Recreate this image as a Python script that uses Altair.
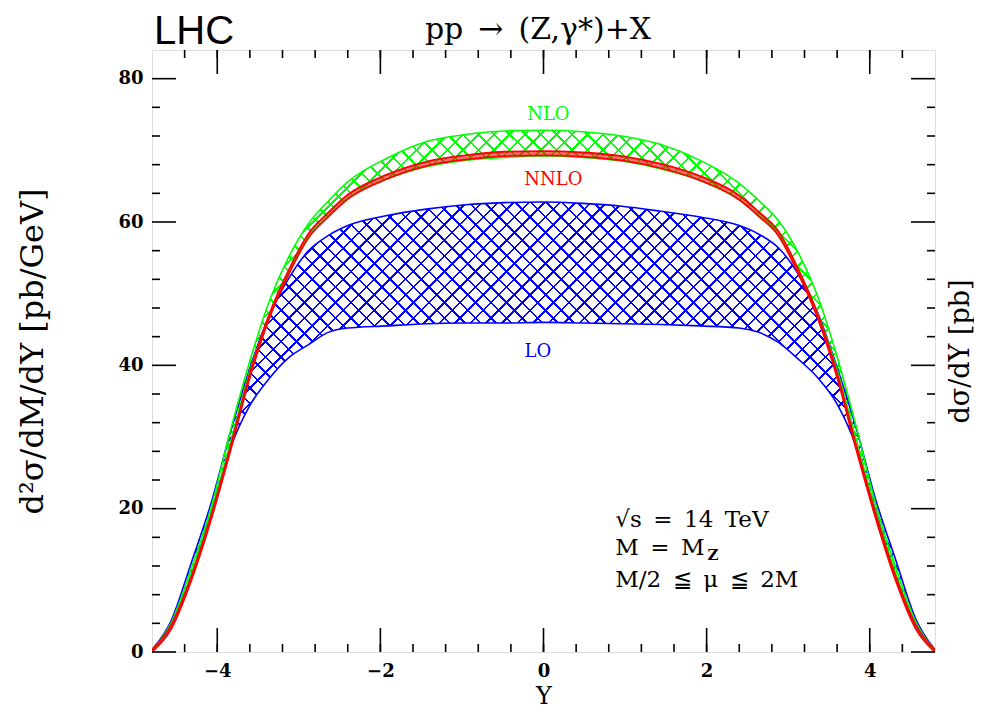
import math
import altair as alt
import pandas as pd

# rapidity grid and the three scale-variation bands
rap = [-4.8, -4.56, -4.32, -4.08, -3.84, -3.6, -3.36, -3.12, -2.88, -2.64, -2.4,
       -1.92, -1.44, -0.96, -0.48, 0.0, 0.48, 0.96, 1.44, 1.92,
       2.4, 2.64, 2.88, 3.12, 3.36, 3.6, 3.84, 4.08, 4.32, 4.56, 4.8]
lo_max = [0.3, 4.5, 12.4, 20.6, 30.6, 39.6, 47.0, 52.2, 56.0, 58.1, 59.5,
          60.9, 61.8, 62.4, 62.7, 62.8, 62.6, 62.2, 61.5, 60.7,
          59.5, 58.3, 56.4, 52.8, 47.4, 39.7, 31.0, 21.0, 12.8, 4.7, 0.3]
lo_min = [0.0, 3.8, 10.5, 19.2, 28.4, 34.4, 38.2, 41.1, 42.9, 44.6, 45.2,
          45.5, 45.8, 45.9, 45.9, 46.0, 45.9, 45.8, 45.7, 45.5,
          45.2, 44.6, 43.2, 40.9, 38.3, 34.6, 28.5, 19.4, 10.6, 3.8, 0.0]
nlo_max = [0.2, 4.2, 11.6, 20.0, 30.8, 40.6, 49.0, 55.2, 59.8, 62.9, 65.6,
           68.9, 71.2, 72.2, 72.7, 72.8, 72.6, 72.0, 70.8, 68.6,
           65.4, 63.0, 60.2, 55.8, 49.7, 41.2, 31.2, 20.3, 11.8, 4.3, 0.2]
nlo_min = [0.1, 3.9, 10.8, 19.2, 29.2, 39.2, 47.0, 53.2, 58.0, 60.8, 63.3,
           66.0, 67.7, 68.6, 69.0, 69.2, 69.0, 68.5, 67.4, 65.8,
           63.1, 60.9, 58.3, 53.5, 47.3, 39.4, 29.4, 19.3, 10.9, 3.9, 0.1]
nnlo_max = [0.3, 3.9, 10.5, 18.9, 28.6, 38.9, 47.2, 53.4, 58.4, 61.3, 63.8,
            66.6, 68.4, 69.3, 69.8, 69.9, 69.7, 69.2, 68.1, 66.4,
            63.7, 61.4, 58.7, 53.5, 47.2, 38.9, 28.6, 19.0, 10.5, 3.9, 0.3]
nnlo_min = [0.0, 3.3, 9.9, 18.3, 28.0, 38.3, 46.6, 52.8, 57.8, 60.7, 63.2,
            66.0, 67.8, 68.7, 69.2, 69.3, 69.1, 68.6, 67.5, 65.8,
            63.1, 60.8, 58.1, 52.9, 46.6, 38.3, 28.0, 18.4, 9.9, 3.3, 0.0]

x_major = [-4, -2, 0, 2, 4]
x_minor = [-4.4, -4.0, -3.6, -3.2, -2.8, -2.4, -2.0, -1.6, -1.2, -0.8, -0.4, 0.0,
           0.4, 0.8, 1.2, 1.6, 2.0, 2.4, 2.8, 3.2, 3.6, 4.0, 4.4]
y_major = [0, 20, 40, 60, 80]
y_minor = [4, 8, 12, 16, 24, 28, 32, 36, 44, 48, 52, 56, 64, 68, 72, 76]

band_labels = ["NLO", "NNLO", "LO"]
band_label_x = [0.06, 0.12, -0.07]
band_label_y = [74.9, 65.8, 41.8]
band_colors = ["#00ff00", "#ff0000", "#0000ff"]

EN = "\u2002"
note_text = ["√s" + EN + "=" + EN + "14" + EN + "TeV", "M" + EN + "=" + EN + "M",
             "M/2" + EN + "≦" + EN + "μ" + EN + "≦" + EN + "2M"]
note_x = [0.88, 0.88, 0.88]
note_y = [18.4, 14.5, 10.0]

W, H = 783, 602
X_DOM = [-4.8, 4.8]
Y_DOM = [0, 84]
SERIF = "DejaVu Serif"
MAJ, MIN = 24, 8

df = pd.DataFrame({"Y": rap, "lo_min": lo_min, "lo_max": lo_max,
                   "nlo_min": nlo_min, "nlo_max": nlo_max,
                   "nnlo_min": nnlo_min, "nnlo_max": nnlo_max})


def hatch(rgb, top, flip, gap=11.0, lw=1.8):
    # diagonal stripes built from a linear gradient over the area's bounding box
    h = top / Y_DOM[1] * H
    w = W
    span = (w + h) / math.sqrt(2)
    k = (w + h) / (w * w + h * h)
    on = "rgb(%d,%d,%d)" % rgb
    off = "rgba(%d,%d,%d,0)" % rgb
    stops = []
    t = 2.0 / span
    while t + lw / span < 1:
        a, b = round(t, 5), round(t + lw / span, 5)
        stops += [alt.GradientStop(offset=a, color=off), alt.GradientStop(offset=a, color=on),
                  alt.GradientStop(offset=b, color=on), alt.GradientStop(offset=b, color=off)]
        t += gap / span
    if flip:
        return alt.LinearGradient(gradient="linear", stops=stops, x1=0, y1=1, x2=k * w, y2=1 - k * h)
    return alt.LinearGradient(gradient="linear", stops=stops, x1=0, y1=0, x2=k * w, y2=k * h)


xs = alt.Scale(domain=X_DOM, nice=False, zero=False)
ys = alt.Scale(domain=Y_DOM, nice=False)

lab = dict(labelFont=SERIF, labelFontSize=18, labelFontWeight="bold", labelColor="black")
ttl = dict(titleFont=SERIF, titleFontWeight="normal", titleColor="black")
x_axis = alt.Axis(orient="bottom", values=x_major, ticks=False, domain=False, grid=False, labelPadding=10,
                  title="Y", titleFontSize=24, titlePadding=4, **lab, **ttl)
y_axis = alt.Axis(orient="left", values=y_major, ticks=False, domain=False, grid=False, labelPadding=9,
                  title="d²σ/dM/dY [pb/GeV]", titleFontSize=32, titlePadding=68, **lab, **ttl)
r_axis = alt.Axis(orient="right", ticks=False, domain=False, grid=False, labels=False,
                  title="dσ/dY [pb]", titleFontSize=27, titleAngle=270, titleBaseline="top",
                  titlePadding=12, **ttl)

base = alt.Chart(df)
layers = []
blue, green = (0, 0, 255), (0, 255, 0)
hatched = [(blue, "lo_min", "lo_max", max(lo_max), False), (blue, "lo_min", "lo_max", max(lo_max), True),
           (green, "nlo_min", "nlo_max", max(nlo_max), False), (green, "nlo_min", "nlo_max", max(nlo_max), True)]
for i, (rgb, lo, hi, top, flip) in enumerate(hatched):
    ya = y_axis if i == 0 else (r_axis if i == 1 else None)
    xa = x_axis if i == 0 else None
    layers.append(base.mark_area(fill=hatch(rgb, top, flip), opacity=1, interpolate="monotone", clip=True).encode(
        x=alt.X("Y:Q", scale=xs, axis=xa), y=alt.Y(lo + ":Q", scale=ys, axis=ya), y2=alt.Y2(hi + ":Q")))

layers.append(base.mark_area(fill="#ff0000", opacity=0.55, interpolate="monotone", clip=True).encode(
    x=alt.X("Y:Q", scale=xs, axis=None), y=alt.Y("nnlo_min:Q", scale=ys, axis=None), y2=alt.Y2("nnlo_max:Q")))

for field, color, sw in [("lo_min", "#0000ff", 1.6), ("lo_max", "#0000ff", 1.6),
                         ("nlo_min", "#00ff00", 1.6), ("nlo_max", "#00ff00", 1.6),
                         ("nnlo_min", "#ff0000", 1.8), ("nnlo_max", "#ff0000", 1.8)]:
    layers.append(base.mark_line(color=color, strokeWidth=sw, interpolate="monotone", clip=True).encode(
        x=alt.X("Y:Q", scale=xs, axis=None), y=alt.Y(field + ":Q", scale=ys, axis=None)))

# inward ticks on all four sides
for vals, size in [(x_major, MAJ), (x_minor, MIN)]:
    tdf = pd.DataFrame({"v": vals})
    for y0, y1 in [(H, H - size), (0, size)]:
        layers.append(alt.Chart(tdf).mark_rule(color="black", strokeWidth=1.6).encode(
            x=alt.X("v:Q", scale=xs, axis=None), y=alt.value(y0), y2=alt.value(y1)))
for vals, size in [(y_major, MAJ), (y_minor, MIN)]:
    tdf = pd.DataFrame({"v": vals})
    for x0, x1 in [(0, size), (W, W - size)]:
        layers.append(alt.Chart(tdf).mark_rule(color="black", strokeWidth=1.6).encode(
            y=alt.Y("v:Q", scale=ys, axis=None), x=alt.value(x0), x2=alt.value(x1)))

labels_df = pd.DataFrame({"x": band_label_x, "y": band_label_y, "t": band_labels, "c": band_colors})
layers.append(alt.Chart(labels_df).mark_text(font=SERIF, fontSize=18, baseline="middle", align="center").encode(
    x=alt.X("x:Q", scale=xs, axis=None), y=alt.Y("y:Q", scale=ys, axis=None),
    text="t:N", color=alt.Color("c:N", scale=None)))

notes_df = pd.DataFrame({"x": note_x, "y": note_y, "t": note_text})
layers.append(alt.Chart(notes_df).mark_text(font=SERIF, fontSize=23, baseline="middle", align="left",
                                            color="black").encode(
    x=alt.X("x:Q", scale=xs, axis=None), y=alt.Y("y:Q", scale=ys, axis=None), text="t:N"))

sub_df = pd.DataFrame({"x": [2.01], "y": [13.6], "t": ["Z"]})
layers.append(alt.Chart(sub_df).mark_text(font=SERIF, fontSize=15, fontWeight="bold", baseline="middle",
                                          align="left", color="black").encode(
    x=alt.X("x:Q", scale=xs, axis=None), y=alt.Y("y:Q", scale=ys, axis=None), text="t:N"))

lhc_df = pd.DataFrame({"t": ["LHC"]})
layers.append(alt.Chart(lhc_df).mark_text(
    font="Liberation Sans", fontSize=40, baseline="alphabetic", align="left", color="black").encode(
    x=alt.value(2), y=alt.value(-6), text="t:N"))
head_df = pd.DataFrame({"t": ["pp" + EN + "→" + EN + "(Z,γ*)+X"]})
layers.append(alt.Chart(head_df).mark_text(
    font=SERIF, fontSize=30, baseline="alphabetic", align="center", color="black").encode(
    x=alt.value(386), y=alt.value(-11), text="t:N"))

chart = alt.layer(*layers).resolve_axis(x="independent", y="independent").properties(
    width=W, height=H,
    autosize=alt.AutoSizeParams(type="none"),
    padding={"left": 144, "top": 42, "right": 39, "bottom": 57},
).configure_view(stroke="black", strokeWidth=2).configure(background="white")

chart.save("out.html", embed_options={"renderer": "svg", "actions": False})
